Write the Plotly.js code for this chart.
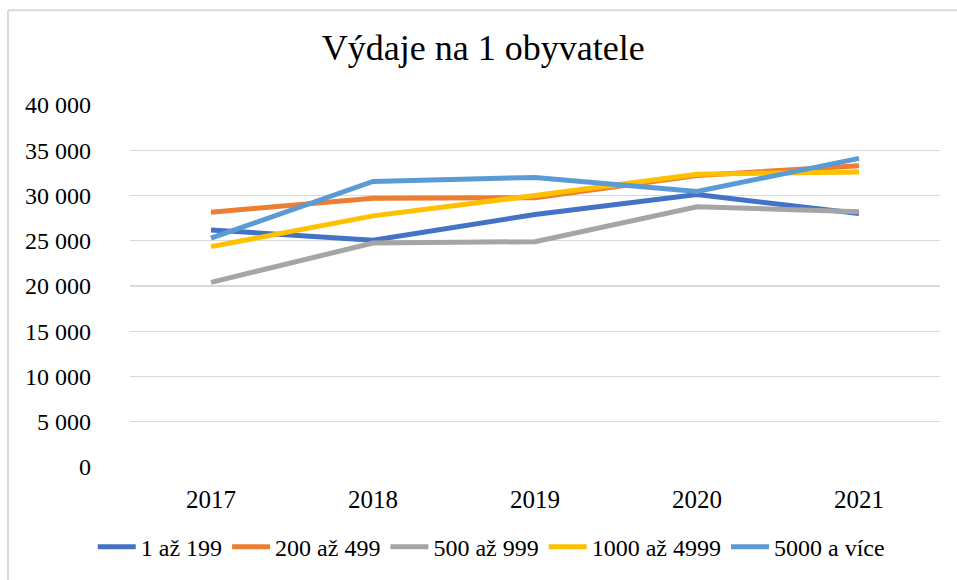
<!DOCTYPE html>
<html>
<head>
<meta charset="utf-8">
<script src="https://cdn.plot.ly/plotly-3.0.1.min.js"></script>
<style>
  html, body { margin: 0; padding: 0; background: #fff; }
  #chart { width: 957px; height: 580px; }
</style>
</head>
<body>
<div id="chart"></div>
<script>
const years = ['2017', '2018', '2019', '2020', '2021'];
const seriesNames = ['1 až 199', '200 až 499', '500 až 999', '1000 až 4999', '5000 a více'];
const s1 = [26200, 25050, 27900, 30100, 28000];
const s2 = [28150, 29700, 29750, 32200, 33300];
const s3 = [20400, 24750, 24900, 28750, 28200];
const s4 = [24350, 27750, 30000, 32350, 32600];
const s5 = [25300, 31550, 32000, 30450, 34100];
const colors = ['#4472C4', '#ED7D31', '#A5A5A5', '#FFC000', '#5B9BD5'];
const values = [s1, s2, s3, s4, s5];

const font = '"Liberation Serif", "DejaVu Serif", serif';

const traces = values.map((v, i) => ({
  x: years,
  y: v,
  name: seriesNames[i],
  type: 'scatter',
  mode: 'lines',
  line: { color: colors[i], width: 5 },
  hoverinfo: 'x+y+name'
}));

const layout = {
  width: 957,
  height: 580,
  margin: { l: 130, r: 17, t: 105, b: 112 },
  paper_bgcolor: '#ffffff',
  plot_bgcolor: '#ffffff',
  separators: ', ',
  font: { family: font, color: '#000000', size: 24 },
  title: {
    text: 'Výdaje na 1 obyvatele',
    font: { family: font, size: 36, color: '#000000' },
    x: 0.505,
    xanchor: 'center',
    y: 0.918,
    yanchor: 'middle'
  },
  xaxis: {
    type: 'category',
    range: [-0.5, 4.5],
    showgrid: false,
    showline: false,
    zeroline: false,
    ticks: '',
    ticklabelstandoff: 15,
    tickfont: { family: font, size: 25, color: '#000000' }
  },
  yaxis: {
    range: [0, 40000],
    dtick: 5000,
    tick0: 0,
    tickformat: ',d',
    showgrid: true,
    gridcolor: '#D9D9D9',
    gridwidth: 1.3,
    zeroline: false,
    showline: false,
    ticks: '',
    ticklabelstandoff: 38,
    tickfont: { family: font, size: 24, color: '#000000' }
  },
  showlegend: true,
  legend: {
    orientation: 'h',
    x: 0.446,
    xanchor: 'center',
    y: -0.218,
    yanchor: 'middle',
    font: { family: font, size: 24, color: '#000000' },
    itemwidth: 38,
    traceorder: 'normal'
  },
  shapes: [
    { type: 'line', xref: 'paper', yref: 'paper', x0: -0.1506, x1: 1.2, y0: 1.2617, y1: 1.2617,
      line: { color: '#D9D9D9', width: 2 } },
    { type: 'line', xref: 'paper', yref: 'paper', x0: -0.1506, x1: -0.1506, y0: 1.2617, y1: -0.5,
      line: { color: '#D9D9D9', width: 2 } }
  ]
};

Plotly.newPlot('chart', traces, layout, { displayModeBar: false, staticPlot: true });
</script>
</body>
</html>
